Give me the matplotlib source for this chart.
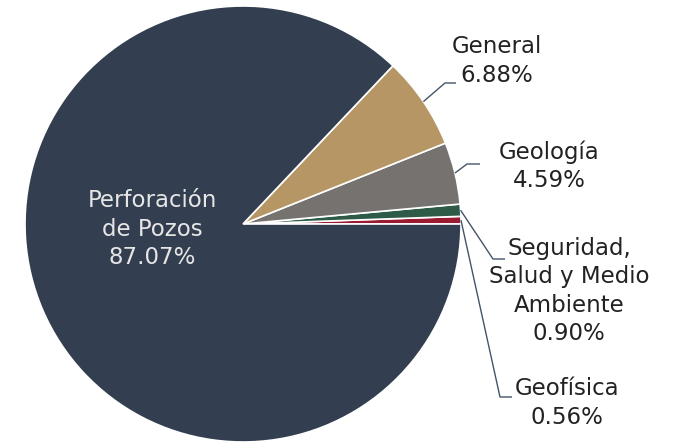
import numpy as np
import matplotlib.pyplot as plt

plt.rcParams['font.family'] = ['DejaVu Sans']

# data (counter-clockwise from 3 o'clock)
labels = ['Geofísica', 'Seguridad,\nSalud y Medio\nAmbiente', 'Geología', 'General', 'Perforación\nde Pozos']
values = [0.56, 0.90, 4.59, 6.88, 87.07]
colors = ['#9A1B31', '#2E5B48', '#767270', '#B59664', '#333F50']

W, H = 679, 443
fig = plt.figure(figsize=(W / 100, H / 100), dpi=100)
ax = fig.add_axes([0, 0, 1, 1])

cx, cy, r = 243, H - 224, 218
wedges, _ = ax.pie(values, colors=colors, startangle=0, counterclock=True,
                   center=(cx, cy), radius=r, frame=True,
                   wedgeprops=dict(edgecolor='white', linewidth=1.2))
ax.set_xlim(0, W)
ax.set_ylim(0, H)
ax.set_aspect('equal')
ax.axis('off')

# label layout: (elbow x, elbow y, end x, text x, text y) in pixels from top
layout = [
    (500, 397, 512, 567, 403),
    (493, 259, 505, 569, 291),
    (467, 164, 480, 549, 166),
    (445, 83, 456, 497, 61),
]
line_col = '#44546A'
for w, lab, val, (ex, ey, endx, tx, ty) in zip(wedges, labels, values, layout):
    ang = np.deg2rad((w.theta1 + w.theta2) / 2)
    sx, sy = cx + r * np.cos(ang), cy + r * np.sin(ang)
    ax.plot([sx, ex, endx], [sy, H - ey, H - ey], color=line_col, lw=1, solid_capstyle='butt')
    ax.text(tx, H - ty, f'{lab}\n{val:.2f}%', ha='center', va='center',
            fontsize=16.5, color='#222222', linespacing=1.3)

ax.text(152, H - 229, f'{labels[-1]}\n{values[-1]:.2f}%', ha='center', va='center',
        fontsize=16.5, color='#E6E6E6', linespacing=1.3)

fig.savefig('out.png', dpi=100)
